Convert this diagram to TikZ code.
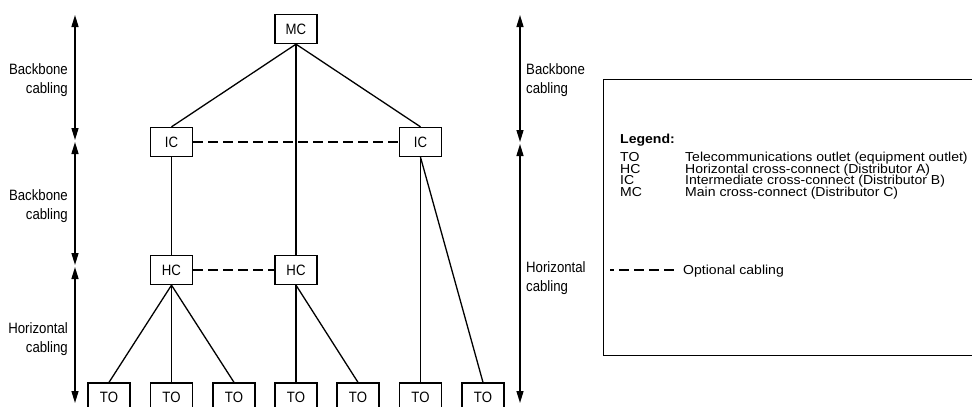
\documentclass[tikz,border=0pt]{standalone}
\usepackage{fontspec}
\setmainfont{Liberation Sans}
\newfontfamily\legendfont[FakeStretch=1.08]{Liberation Sans}
\newfontfamily\narrowfont[FakeStretch=0.88]{Liberation Sans}
\usetikzlibrary{arrows.meta}

\begin{document}
\begin{tikzpicture}[
  x=1pt, y=-1pt,
  box/.style={draw, line width=1.3pt, minimum width=42pt, minimum height=29pt, inner sep=0pt, font=\narrowfont\fontsize{15}{17}\selectfont},
  cable/.style={line width=1.3pt},
  opt/.style={cable, dash pattern=on 10pt off 5pt},
  dimarr/.style={{Triangle[length=12pt,width=7pt]}-{Triangle[length=12pt,width=7pt]}, line width=1.4pt},
  side/.style={font=\narrowfont\fontsize{15}{19}\selectfont, inner sep=0pt},
  leg/.style={font=\legendfont\fontsize{13}{15}\selectfont, anchor=base west, inner sep=0pt},
]
  \useasboundingbox (0,0) rectangle (972,407);

  % distributors
  \node[box] (mc)  at (296,29)    {MC};
  \node[box] (icl) at (171.5,142) {IC};
  \node[box] (icr) at (420.5,142) {IC};
  \node[box] (hcl) at (171.5,270) {HC};
  \node[box] (hcm) at (296,270)   {HC};
  \foreach \x [count=\i] in {109,171.5,234,296,358,420.5,483}
    \node[box] (to\i) at (\x,397.5) {TO};

  % cabling
  \draw[cable] (mc.south) -- (icl.north);
  \draw[cable] (mc.south) -- (icr.north);
  \draw[cable] (mc.south) -- (hcm.north);
  \draw[cable] (icl) -- (hcl);
  \draw[opt] (icl) -- (icr);
  \draw[opt] (hcl) -- (hcm);
  \foreach \i in {1,2,3}
    \draw[cable] (hcl.south) -- (to\i.north);
  \foreach \i in {4,5}
    \draw[cable] (hcm.south) -- (to\i.north);
  \foreach \i in {6,7}
    \draw[cable] (icr.south) -- (to\i.north);

  % left dimension arrows
  \coordinate (l0) at (75,15);
  \coordinate (l1) at (75,141);
  \coordinate (l2) at (75,266);
  \coordinate (l3) at (75,403);
  \draw[dimarr, shorten >=1pt] (l0) -- (l1);
  \draw[dimarr, shorten <=1pt, shorten >=1pt] (l1) -- (l2);
  \draw[dimarr, shorten <=1pt] (l2) -- (l3);
  \node[side, anchor=east, align=right] (bbl1) at (68,80)  {Backbone\\cabling};
  \node[side, anchor=east, align=right] (bbl2) at (68,206) {Backbone\\cabling};
  \node[side, anchor=east, align=right] (hzl)  at (68,339) {Horizontal\\cabling};

  % right dimension arrows
  \coordinate (r0) at (520,15);
  \coordinate (r1) at (520,143);
  \coordinate (r2) at (520,403);
  \draw[dimarr, shorten >=1pt] (r0) -- (r1);
  \draw[dimarr, shorten <=1pt] (r1) -- (r2);
  \node[side, anchor=west, align=left] (bbr) at (526,80)  {Backbone\\cabling};
  \node[side, anchor=west, align=left] (hzr) at (526,278) {Horizontal\\cabling};

  % legend
  \node[draw, line width=1.3pt, anchor=north west, minimum width=390pt, minimum height=276pt] (legend) at (603,79) {};
  \node[leg, font=\legendfont\bfseries\fontsize{13}{15}\selectfont] (legtitle) at (620,143.5) {Legend:};
  \foreach \y/\abbr/\txt in {161.5/TO/Telecommunications outlet (equipment outlet),
                             173/HC/Horizontal cross-connect (Distributor A),
                             184.5/IC/Intermediate cross-connect (Distributor B),
                             196/MC/Main cross-connect (Distributor C)} {
    \node[leg] at (620,\y) {\abbr};
    \node[leg] at (685,\y) {\txt};
  }
  \node[leg] (optlbl) at (683,274.5) {Optional cabling};
  \coordinate (optstart) at (610,270);
  \draw[opt, dash phase=6pt] (optstart) -- ([xshift=-8pt]optlbl.west |- optstart);
\end{tikzpicture}
\end{document}
